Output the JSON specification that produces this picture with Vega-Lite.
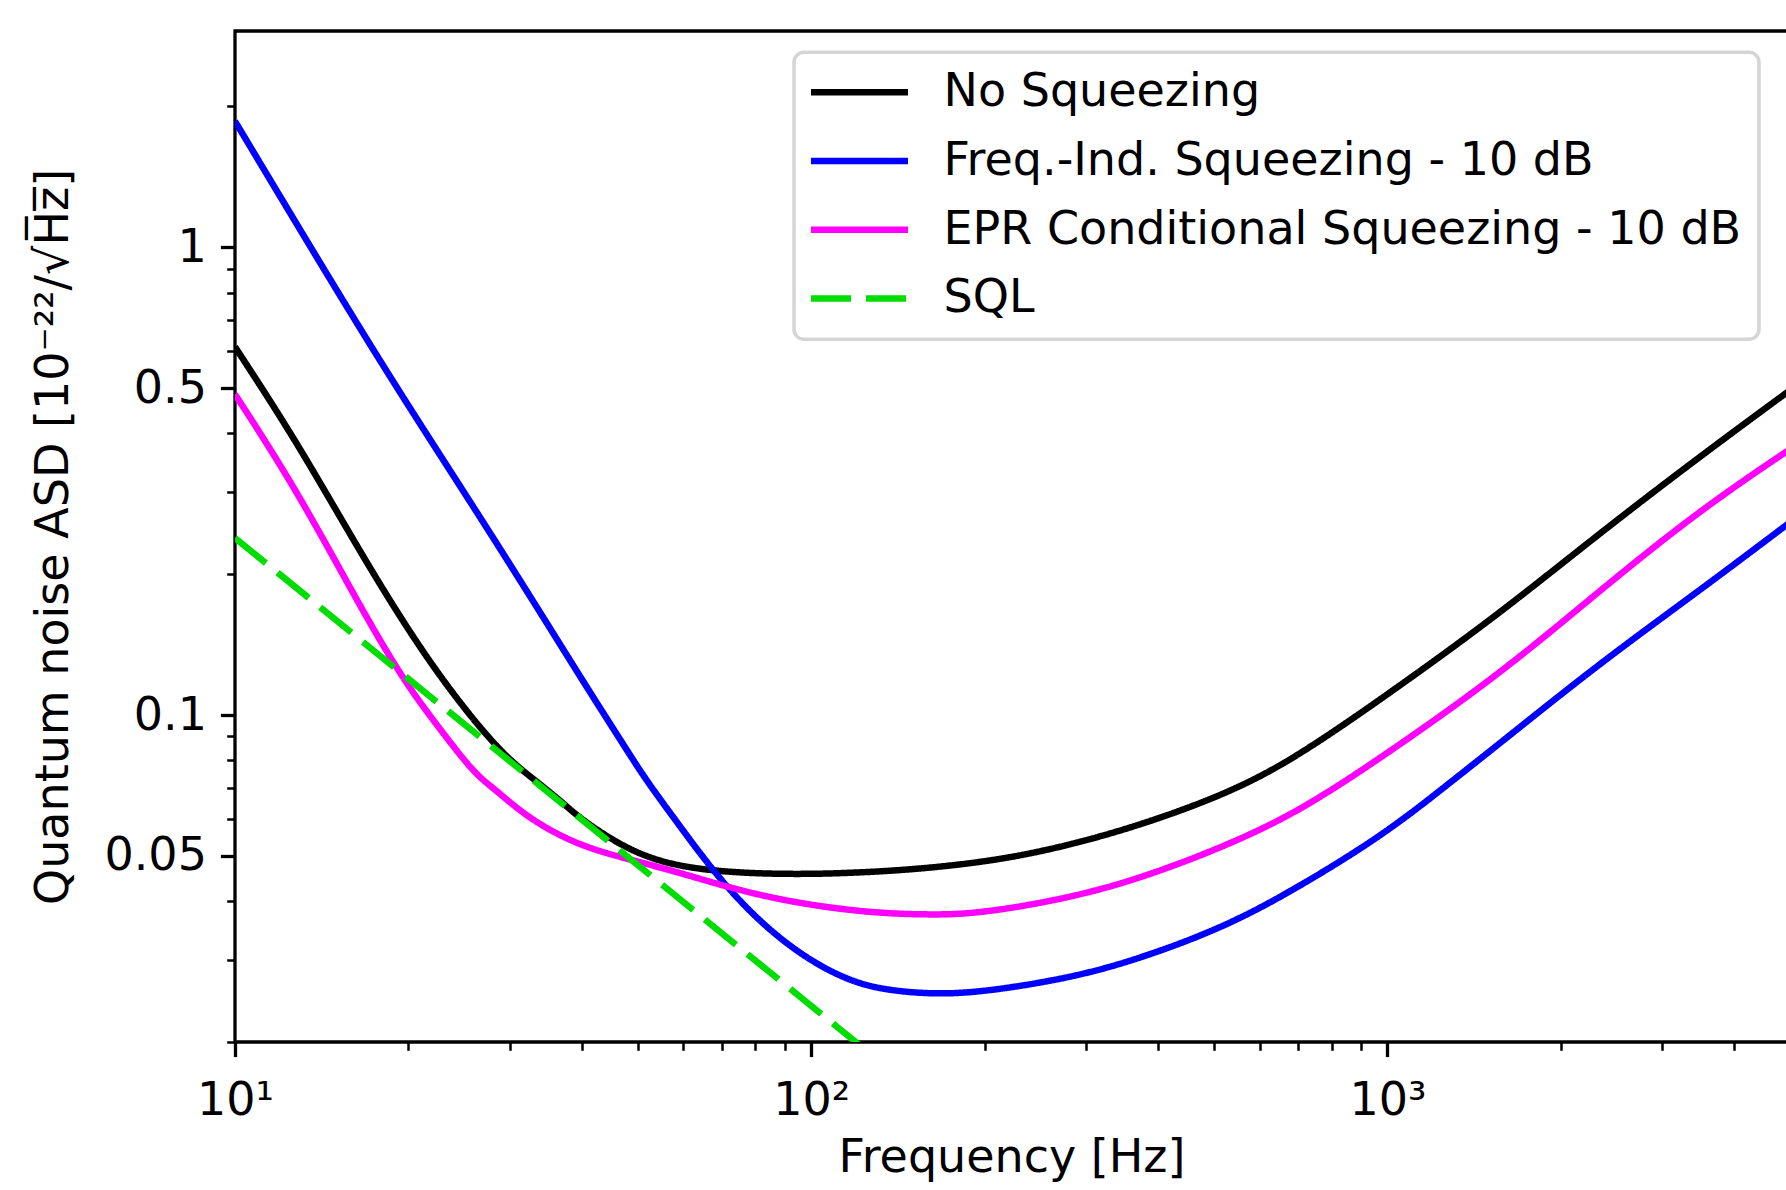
{
  "$schema": "https://vega.github.io/schema/vega-lite/v6.json",
  "width": 1553,
  "height": 1011,
  "autosize": {"type": "none"},
  "padding": {"left": 235, "top": 31, "right": 0, "bottom": 148},
  "background": "white",
  "config": {
    "view": {"stroke": "black", "strokeWidth": 3.3},
    "font": "DejaVu Sans",
    "axis": {
      "labelFont": "DejaVu Sans", "titleFont": "DejaVu Sans",
      "labelColor": "black", "titleColor": "black", "tickColor": "black",
      "grid": false, "domain": false,
      "labelFontSize": 46, "titleFontSize": 46, "titleFontWeight": "normal"
    },
    "legend": {
      "symbolType": "M-3,0H3",
      "symbolSize": 1045,
      "symbolStrokeWidth": 6.5,
      "labelFont": "DejaVu Sans",
      "labelFontSize": 46,
      "labelColor": "black",
      "labelLimit": 2000,
      "symbolOffset": 25.5,
      "labelOffset": 61,
      "rowPadding": 22.7,
      "padding": 17,
      "strokeColor": "#d5d5d5",
      "strokeWidth": 3.5,
      "fillColor": "white",
      "cornerRadius": 10
    }
  },
  "data": {
    "values": [
      {"series": "No Squeezing", "freq": 10, "asd": 0.6125},
      {"series": "No Squeezing", "freq": 12.81, "asd": 0.384},
      {"series": "No Squeezing", "freq": 16.72, "asd": 0.216},
      {"series": "No Squeezing", "freq": 21.83, "asd": 0.1275},
      {"series": "No Squeezing", "freq": 28.49, "asd": 0.0843},
      {"series": "No Squeezing", "freq": 32.54, "asd": 0.0739},
      {"series": "No Squeezing", "freq": 37.17, "asd": 0.0648},
      {"series": "No Squeezing", "freq": 39.73, "asd": 0.0600},
      {"series": "No Squeezing", "freq": 48.52, "asd": 0.0510},
      {"series": "No Squeezing", "freq": 59.26, "asd": 0.0472},
      {"series": "No Squeezing", "freq": 77.34, "asd": 0.0458},
      {"series": "No Squeezing", "freq": 100.9, "asd": 0.0457},
      {"series": "No Squeezing", "freq": 116.9, "asd": 0.0460},
      {"series": "No Squeezing", "freq": 131.8, "asd": 0.0463},
      {"series": "No Squeezing", "freq": 160.9, "asd": 0.0471},
      {"series": "No Squeezing", "freq": 215.4, "asd": 0.0491},
      {"series": "No Squeezing", "freq": 292.5, "asd": 0.0533},
      {"series": "No Squeezing", "freq": 397.2, "asd": 0.0597},
      {"series": "No Squeezing", "freq": 539.5, "asd": 0.0688},
      {"series": "No Squeezing", "freq": 700, "asd": 0.0815},
      {"series": "No Squeezing", "freq": 1052, "asd": 0.1155},
      {"series": "No Squeezing", "freq": 1569, "asd": 0.1651},
      {"series": "No Squeezing", "freq": 2340, "asd": 0.2452},
      {"series": "No Squeezing", "freq": 3488, "asd": 0.3573},
      {"series": "No Squeezing", "freq": 5000, "asd": 0.495},

      {"series": "Freq.-Ind. Squeezing - 10 dB", "freq": 10, "asd": 1.86},
      {"series": "Freq.-Ind. Squeezing - 10 dB", "freq": 16.5, "asd": 0.665},
      {"series": "Freq.-Ind. Squeezing - 10 dB", "freq": 21.83, "asd": 0.387},
      {"series": "Freq.-Ind. Squeezing - 10 dB", "freq": 28.49, "asd": 0.2329},
      {"series": "Freq.-Ind. Squeezing - 10 dB", "freq": 37.17, "asd": 0.1378},
      {"series": "Freq.-Ind. Squeezing - 10 dB", "freq": 41.35, "asd": 0.1117},
      {"series": "Freq.-Ind. Squeezing - 10 dB", "freq": 48.52, "asd": 0.0820},
      {"series": "Freq.-Ind. Squeezing - 10 dB", "freq": 51.87, "asd": 0.0722},
      {"series": "Freq.-Ind. Squeezing - 10 dB", "freq": 59.26, "asd": 0.0577},
      {"series": "Freq.-Ind. Squeezing - 10 dB", "freq": 67.69, "asd": 0.0463},
      {"series": "Freq.-Ind. Squeezing - 10 dB", "freq": 77.34, "asd": 0.0385},
      {"series": "Freq.-Ind. Squeezing - 10 dB", "freq": 88.35, "asd": 0.0332},
      {"series": "Freq.-Ind. Squeezing - 10 dB", "freq": 100.9, "asd": 0.0296},
      {"series": "Freq.-Ind. Squeezing - 10 dB", "freq": 115.3, "asd": 0.0272},
      {"series": "Freq.-Ind. Squeezing - 10 dB", "freq": 131.8, "asd": 0.0259},
      {"series": "Freq.-Ind. Squeezing - 10 dB", "freq": 160.9, "asd": 0.0253},
      {"series": "Freq.-Ind. Squeezing - 10 dB", "freq": 196.5, "asd": 0.0255},
      {"series": "Freq.-Ind. Squeezing - 10 dB", "freq": 292.5, "asd": 0.0276},
      {"series": "Freq.-Ind. Squeezing - 10 dB", "freq": 397.2, "asd": 0.0310},
      {"series": "Freq.-Ind. Squeezing - 10 dB", "freq": 539.5, "asd": 0.0359},
      {"series": "Freq.-Ind. Squeezing - 10 dB", "freq": 718, "asd": 0.0436},
      {"series": "Freq.-Ind. Squeezing - 10 dB", "freq": 994, "asd": 0.0559},
      {"series": "Freq.-Ind. Squeezing - 10 dB", "freq": 1285, "asd": 0.0717},
      {"series": "Freq.-Ind. Squeezing - 10 dB", "freq": 1569, "asd": 0.0871},
      {"series": "Freq.-Ind. Squeezing - 10 dB", "freq": 2340, "asd": 0.1293},
      {"series": "Freq.-Ind. Squeezing - 10 dB", "freq": 3488, "asd": 0.1849},
      {"series": "Freq.-Ind. Squeezing - 10 dB", "freq": 5000, "asd": 0.2583},

      {"series": "EPR Conditional Squeezing - 10 dB", "freq": 10, "asd": 0.485},
      {"series": "EPR Conditional Squeezing - 10 dB", "freq": 12.81, "asd": 0.3027},
      {"series": "EPR Conditional Squeezing - 10 dB", "freq": 16.72, "asd": 0.1651},
      {"series": "EPR Conditional Squeezing - 10 dB", "freq": 19.62, "asd": 0.1189},
      {"series": "EPR Conditional Squeezing - 10 dB", "freq": 21.83, "asd": 0.0993},
      {"series": "EPR Conditional Squeezing - 10 dB", "freq": 24.93, "asd": 0.0802},
      {"series": "EPR Conditional Squeezing - 10 dB", "freq": 26.65, "asd": 0.0733},
      {"series": "EPR Conditional Squeezing - 10 dB", "freq": 28.49, "asd": 0.0688},
      {"series": "EPR Conditional Squeezing - 10 dB", "freq": 32.54, "asd": 0.0597},
      {"series": "EPR Conditional Squeezing - 10 dB", "freq": 39.73, "asd": 0.0524},
      {"series": "EPR Conditional Squeezing - 10 dB", "freq": 48.52, "asd": 0.0491},
      {"series": "EPR Conditional Squeezing - 10 dB", "freq": 59.26, "asd": 0.0460},
      {"series": "EPR Conditional Squeezing - 10 dB", "freq": 72.34, "asd": 0.0427},
      {"series": "EPR Conditional Squeezing - 10 dB", "freq": 88.35, "asd": 0.0403},
      {"series": "EPR Conditional Squeezing - 10 dB", "freq": 107.9, "asd": 0.0387},
      {"series": "EPR Conditional Squeezing - 10 dB", "freq": 131.8, "asd": 0.0377},
      {"series": "EPR Conditional Squeezing - 10 dB", "freq": 160.9, "asd": 0.0374},
      {"series": "EPR Conditional Squeezing - 10 dB", "freq": 196.5, "asd": 0.0376},
      {"series": "EPR Conditional Squeezing - 10 dB", "freq": 292.5, "asd": 0.0410},
      {"series": "EPR Conditional Squeezing - 10 dB", "freq": 397.2, "asd": 0.0460},
      {"series": "EPR Conditional Squeezing - 10 dB", "freq": 539.5, "asd": 0.0533},
      {"series": "EPR Conditional Squeezing - 10 dB", "freq": 705.8, "asd": 0.0625},
      {"series": "EPR Conditional Squeezing - 10 dB", "freq": 964, "asd": 0.0802},
      {"series": "EPR Conditional Squeezing - 10 dB", "freq": 1569, "asd": 0.1222},
      {"series": "EPR Conditional Squeezing - 10 dB", "freq": 2340, "asd": 0.1849},
      {"series": "EPR Conditional Squeezing - 10 dB", "freq": 3488, "asd": 0.2745},
      {"series": "EPR Conditional Squeezing - 10 dB", "freq": 5000, "asd": 0.3703},

      {"series": "SQL", "freq": 10, "asd": 0.239},
      {"series": "SQL", "freq": 20, "asd": 0.1195},
      {"series": "SQL", "freq": 50, "asd": 0.0478},
      {"series": "SQL", "freq": 100, "asd": 0.0239},
      {"series": "SQL", "freq": 130, "asd": 0.01838}
    ]
  },
  "layer": [
    {
      "mark": {"type": "line", "clip": true, "strokeWidth": 6.5, "interpolate": "basis", "strokeCap": "butt", "strokeJoin": "round"},
      "encoding": {
        "x": {
          "field": "freq", "type": "quantitative",
          "scale": {"type": "log", "domain": [10, 4958], "nice": false, "zero": false},
          "axis": {
            "orient": "bottom", "values": [10, 100, 1000],
            "labelExpr": "datum.value == 10 ? '10¹' : datum.value == 100 ? '10²' : '10³'",
            "tickSize": 14.6, "tickWidth": 3.3, "labelPadding": 22, "labelFlush": false,
            "title": "Frequency [Hz]", "titlePadding": 12
          }
        },
        "y": {
          "field": "asd", "type": "quantitative",
          "scale": {"type": "log", "domain": [0.02, 2.9], "nice": false, "zero": false},
          "axis": {
            "orient": "left", "values": [0.05, 0.1, 0.5, 1],
            "labelExpr": "datum.value == 1 ? '1' : datum.value == 0.5 ? '0.5' : datum.value == 0.1 ? '0.1' : '0.05'",
            "tickSize": 14.6, "tickWidth": 3.3, "labelPadding": 14, "labelFlush": false,
            "title": "Quantum noise ASD [10⁻²²/√H̅z̅]", "titlePadding": 26
          }
        },
        "color": {
          "field": "series", "type": "nominal",
          "scale": {
            "domain": ["No Squeezing", "Freq.-Ind. Squeezing - 10 dB", "EPR Conditional Squeezing - 10 dB", "SQL"],
            "range": ["#000000", "#0000ff", "#ff00ff", "#00dd00"]
          },
          "legend": {"title": null, "orient": "none", "legendX": 559, "legendY": 21.3}
        },
        "strokeDash": {
          "field": "series", "type": "nominal",
          "scale": {
            "domain": ["No Squeezing", "Freq.-Ind. Squeezing - 10 dB", "EPR Conditional Squeezing - 10 dB", "SQL"],
            "range": [[1, 0], [1, 0], [1, 0], [40, 15]]
          },
          "legend": {"title": null, "orient": "none", "legendX": 559, "legendY": 21.3}
        }
      }
    },
    {
      "mark": {"type": "line", "opacity": 0, "clip": true},
      "encoding": {
        "x": {
          "field": "freq", "type": "quantitative",
          "scale": {"type": "log", "domain": [10, 4958], "nice": false, "zero": false},
          "axis": {
            "orient": "bottom",
            "values": [20, 30, 40, 50, 60, 70, 80, 90, 200, 300, 400, 500, 600, 700, 800, 900, 2000, 3000, 4000],
            "labels": false, "tickSize": 8.3, "tickWidth": 2.5, "title": null
          }
        },
        "y": {
          "field": "asd", "type": "quantitative",
          "scale": {"type": "log", "domain": [0.02, 2.9], "nice": false, "zero": false},
          "axis": {
            "orient": "left",
            "values": [0.02, 0.03, 0.04, 0.06, 0.07, 0.08, 0.09, 0.2, 0.3, 0.4, 0.6, 0.7, 0.8, 0.9, 2],
            "labels": false, "tickSize": 8.3, "tickWidth": 2.5, "title": null
          }
        },
        "detail": {"field": "series", "type": "nominal"}
      }
    }
  ],
  "resolve": {"axis": {"x": "independent", "y": "independent"}}
}
